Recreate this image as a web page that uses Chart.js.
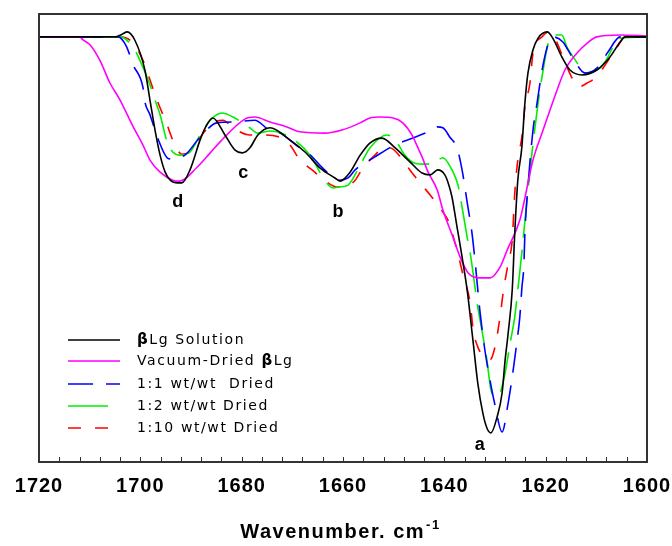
<!DOCTYPE html>
<html>
<head>
<meta charset="utf-8">
<script src="https://cdn.jsdelivr.net/npm/chart.js@4/dist/chart.umd.min.js"></script>
<style>
  html, body { margin: 0; padding: 0; background: #fff; }
  canvas { display: block; }
</style>
</head>
<body>
<canvas id="c" width="672" height="546"></canvas>
<script>
// ---- Data (wavenumber in cm^-1, relative transmittance %) ----
const xTicks = [1720, 1700, 1680, 1660, 1640, 1620, 1600];

const solutionX = [1720,1712,1705,1703.6,1702.6,1701.1,1699.1,1698.1,1697.1,1696.1,1695.1,1694.1,1692.6,1691.8,1690.2,1688.2,1687.2,1685.7,1683.3,1681.3,1679.9,1678.4,1676.8,1674.4,1670.5,1667.5,1664.5,1661.6,1660.6,1658.6,1656.6,1654.7,1652.3,1649.7,1646.8,1644.4,1642.8,1641.3,1639.9,1639.1,1638.5,1637.5,1636.5,1635.5,1634.3,1633.4,1632.4,1631.6,1630.8,1629.6,1628.6,1628.0,1627.4,1626.6,1626.1,1625.5,1624.7,1624.1,1623.5,1622.5,1621.5,1619.7,1618.6,1616.8,1615.2,1612.8,1609.9,1607.3,1605.3,1604.3,1600];
const solutionY = [94.9,94.9,94.9,95.5,96.0,94.2,87.5,80.8,74.1,68.5,64.7,62.9,62.3,62.3,65.2,71.9,74.6,76.8,73.0,69.6,69.0,70.1,73.0,74.6,71.9,69.2,65.6,63.4,62.7,64.7,68.5,71.2,72.3,70.1,67.0,64.5,64.1,65.2,64.1,61.8,59.2,52.5,45.8,38.4,26.6,17.6,10.9,7.6,6.5,10.0,15.4,22.8,28.8,38.4,51.1,62.9,70.3,80.1,86.8,92.0,94.6,96.0,94.6,90.4,87.5,86.4,87.5,90.4,93.75,94.9,94.9];

const vacuumX = [1720,1712,1711.3,1709.9,1708.0,1706.0,1704.0,1701.4,1699.5,1698.1,1696.1,1693.6,1692.2,1688.8,1686.2,1684.3,1679.3,1677.4,1674.4,1671.1,1668.5,1663.6,1660.2,1656.6,1654.7,1652.7,1650.1,1648.2,1646.4,1645.2,1644.4,1643.2,1641.4,1640.3,1638.3,1636.9,1635.3,1633.0,1631.0,1629.0,1627.6,1625.1,1622.5,1620.5,1617.6,1616.2,1613.8,1611.8,1609.9,1605.3,1600];
const vacuumY = [94.9,94.9,94.2,93.1,89.7,84.6,80.8,74.8,70.8,67.4,64.7,62.9,62.7,65.8,69.0,71.4,76.6,77.0,75.9,74.8,73.7,73.4,74.1,75.7,76.8,77.0,76.8,75.7,73.0,70.1,68.1,64.7,60.7,56.3,50.2,45.8,42.2,41.1,41.1,43.5,47.3,54.0,67.4,74.1,83.5,87.5,91.3,93.5,94.9,95.3,95.1];

const ratio1X = [1720,1705,1704.4,1702.8,1701.4,1699.5,1699.1,1698.1,1696.5,1694.7,1693.7,1692.8,1691.2,1688.2,1684.9,1681.3,1677.4,1674.8,1672.4,1668.5,1666.9,1664.0,1662.0,1660.6,1659.0,1657.6,1653.7,1649.7,1646.2,1643.2,1641.4,1640.3,1638.9,1637.5,1636.5,1635.5,1634.5,1633.9,1633.0,1632.0,1631.0,1630.0,1628.6,1627.4,1626.6,1625.7,1625.1,1624.7,1624.3,1624.1,1623.5,1622.5,1621.7,1620.7,1619.7,1618.6,1616.6,1615.6,1614.2,1612.2,1609.9,1607.7,1605.3,1600];
const ratio1Y = [94.9,94.9,94.9,92.9,88.6,83.7,80.4,77.5,72.1,67.9,67.6,67.9,68.5,72.5,75.7,75.9,76.3,74.3,73.4,70.1,69.0,65.6,63.6,62.9,63.4,65.2,68.1,70.8,72.3,73.7,74.8,74.6,72.5,70.1,65.2,58.0,50.7,44.4,33.9,25.0,18.3,12.7,6.7,13.2,19.0,26.6,32.4,38.8,44.0,51.1,61.4,74.1,80.1,87.5,92.6,94.9,93.75,92.0,89.3,86.8,87.9,91.5,94.9,94.9];

const ratio2X = [1720,1704,1701.1,1700.1,1698.1,1697.1,1696.1,1694.7,1693.6,1692.2,1690.2,1688.2,1686.2,1683.9,1681.7,1678.4,1676.8,1674.4,1670.5,1666.5,1663.6,1662.0,1660.6,1659.0,1656.6,1654.7,1651.3,1649.7,1647.8,1645.8,1643.8,1642.4,1640.3,1638.5,1637.3,1636.5,1635.5,1634.9,1633.4,1632.6,1631.6,1630.8,1629.8,1629.0,1628.0,1627.0,1626.1,1625.5,1624.7,1623.7,1622.7,1621.5,1620.5,1619.5,1618.2,1616.8,1615.8,1613.8,1612.6,1609.3,1608.3,1605.3,1600];
const ratio2Y = [94.9,94.9,92.0,89.7,84.2,80.8,77.5,71.4,69.2,68.5,69.2,73.0,76.3,77.9,77.0,74.6,73.4,73.9,72.5,68.5,62.9,61.2,61.4,61.8,66.3,70.1,73.0,71.9,68.5,66.7,66.5,66.5,67.9,65.2,61.8,56.9,50.2,46.7,34.6,29.5,22.8,16.1,14.5,15.4,19.9,26.6,32.4,38.4,46.7,58.5,69.0,80.1,87.5,93.5,95.3,95.3,92.6,89.1,86.8,87.9,89.3,94.6,94.9];

const ratio10X = [1720,1712,1711,1710,1704,1701.4,1699.5,1698.1,1696.7,1694.7,1693.6,1691.8,1690.2,1687.6,1685.3,1683.7,1681.7,1678.4,1676.8,1672.4,1670.5,1668.5,1666.1,1663.2,1661.2,1659.6,1657.6,1656.1,1653.7,1652.1,1650.7,1648.2,1646.8,1644.4,1642.8,1640.3,1639.3,1637.5,1636.3,1634.9,1634.3,1633.4,1632.0,1631.0,1630.0,1629.0,1628.4,1627.4,1626.6,1626.1,1625.5,1624.7,1624.1,1623.1,1622.5,1620.7,1619.5,1618.2,1616.6,1614.8,1613.6,1611.8,1610.3,1608.7,1605.9,1604.3,1600];
const ratio10Y = [94.9,94.9,95.6,94.9,94.9,93.5,89.7,85.3,80.8,75.2,71.9,68.7,69.2,73.4,75.9,76.3,74.6,73.0,73.0,72.5,70.8,67.4,65.2,62.5,61.4,61.4,62.9,65.6,68.5,70.1,70.1,67.4,65.2,61.8,59.6,55.8,54.0,47.3,41.7,35.5,29.5,25.7,23.2,22.8,25.7,32.4,37.7,44.4,49.6,60.0,67.4,72.5,79.2,84.6,91.3,94.9,96.0,94.6,90.4,85.7,83.7,84.6,85.7,87.9,92.6,94.9,94.9];

// band labels: letter, wavenumber, value
const bandLetters = ['a', 'b', 'c', 'd'];
const bandX = [1633.0, 1661.0, 1679.7, 1692.6];
const bandY = [3.8, 55.8, 64.5, 58.0];

const seriesNames = ['Solution', 'Vacuum-Dried', '1:1 wt/wt  Dried', '1:2 wt/wt Dried', '1:10 wt/wt Dried'];

// ---- Build datasets ----
const toPts = (xs, ys) => xs.map((x, i) => ({ x: x, y: ys[i] }));
const styles = [
  { c: '#000000', d: [] },
  { c: '#ff00ff', d: [] },
  { c: '#0000ff', d: [25, 13] },
  { c: '#00ee00', d: [40, 12] },
  { c: '#ff0000', d: [13, 14] }
];
const allX = [solutionX, vacuumX, ratio1X, ratio2X, ratio10X];
const allY = [solutionY, vacuumY, ratio1Y, ratio2Y, ratio10Y];
const datasets = allX.map((xs, i) => ({
  label: seriesNames[i],
  data: toPts(xs, allY[i]),
  borderColor: styles[i].c,
  borderDash: styles[i].d,
  borderWidth: 1.6,
  pointRadius: 0,
  fill: false,
  cubicInterpolationMode: 'monotone'
}));

// legend entries: segments [text, bold]
const legendRows = [
  [['\u03B2', true], ['Lg Solution', false]],
  [['Vacuum-Dried ', false], ['\u03B2', true], ['Lg', false]],
  [['1:1 wt/wt  Dried', false]],
  [['1:2 wt/wt Dried', false]],
  [['1:10 wt/wt Dried', false]]
];

const decor = {
  id: 'decor',
  beforeDraw(chart) {
    chart.ctx.letterSpacing = '1px';
  },
  afterDatasetsDraw(chart) {
    const ctx = chart.ctx;
    const a = chart.chartArea;
    const xs = chart.scales.x, ys = chart.scales.y;
    ctx.save();
    ctx.letterSpacing = '0px';
    // frame
    ctx.strokeStyle = '#333';
    ctx.lineWidth = 2;
    ctx.setLineDash([]);
    ctx.strokeRect(a.left, a.top, a.right - a.left, a.bottom - a.top);
    // minor/major ticks inward
    ctx.lineWidth = 1;
    ctx.strokeStyle = '#333';
    for (let v = 1604; v <= 1716; v += 4) {
      const px = Math.round(xs.getPixelForValue(v)) + 0.5;
      ctx.beginPath();
      ctx.moveTo(px, a.bottom);
      ctx.lineTo(px, a.bottom - 5);
      ctx.stroke();
    }
    // band labels
    ctx.fillStyle = '#000';
    ctx.font = 'bold 18px "Liberation Sans", Arial, sans-serif';
    ctx.textAlign = 'center';
    ctx.textBaseline = 'middle';
    bandLetters.forEach((t, i) => {
      ctx.fillText(t, xs.getPixelForValue(bandX[i]), ys.getPixelForValue(bandY[i]));
    });
    // legend
    const lx0 = a.left + 29, tx = a.left + 98;
    const rowY = [340, 361, 384, 406, 428];
    const lens = [52, 52, 52, 41, 52];
    ctx.textAlign = 'left';
    ctx.textBaseline = 'middle';
    legendRows.forEach((segs, i) => {
      const y = rowY[i];
      ctx.strokeStyle = styles[i].c;
      ctx.lineWidth = 1.6;
      ctx.setLineDash(styles[i].d);
      ctx.beginPath();
      ctx.moveTo(lx0, y);
      ctx.lineTo(lx0 + lens[i], y);
      ctx.stroke();
      ctx.setLineDash([]);
      let x = tx;
      ctx.letterSpacing = '1.6px';
      segs.forEach(([txt, bold]) => {
        ctx.font = (bold ? 'bold 15px' : '14px') + ' "DejaVu Sans", sans-serif';
        ctx.fillText(txt, x, y);
        x += ctx.measureText(txt).width;
      });
    });
    // axis title with superscript
    ctx.letterSpacing = '1.5px';
    ctx.font = 'bold 20px "Liberation Sans", Arial, sans-serif';
    const main = 'Wavenumber. cm';
    const w1 = ctx.measureText(main).width;
    ctx.font = 'bold 13px "Liberation Sans", Arial, sans-serif';
    const sup = '-1';
    const w2 = ctx.measureText(sup).width;
    const cx = (a.left + a.right) / 2 - 3;
    const start = cx - (w1 + w2) / 2;
    ctx.textBaseline = 'alphabetic';
    ctx.font = 'bold 20px "Liberation Sans", Arial, sans-serif';
    ctx.fillText(main, start, 538);
    ctx.font = 'bold 13px "Liberation Sans", Arial, sans-serif';
    ctx.fillText(sup, start + w1 + 1, 529);
    ctx.restore();
  }
};

new Chart(document.getElementById('c'), {
  type: 'line',
  data: { datasets: datasets },
  options: {
    responsive: false,
    animation: false,
    events: [],
    layout: { padding: { left: 39, right: 25, top: 14, bottom: 0 } },
    plugins: { legend: { display: false }, tooltip: { enabled: false } },
    scales: {
      x: {
        type: 'linear',
        reverse: true,
        min: 1600,
        max: 1720,
        afterBuildTicks: (s) => { s.ticks = xTicks.map(v => ({ value: v })); },
        afterFit: (s) => { s.height = 84; s.paddingLeft = 0; s.paddingRight = 0; },
        grid: { display: false, drawTicks: false },
        border: { display: false },
        ticks: {
          color: '#000',
          padding: 12,
          maxRotation: 0,
          autoSkip: false,
          callback: (v) => String(v),
          font: { family: '"Liberation Sans", Arial, sans-serif', size: 20, weight: 'bold' }
        }
      },
      y: { display: false, min: 0, max: 100 }
    }
  },
  plugins: [decor]
});
</script>
</body>
</html>
